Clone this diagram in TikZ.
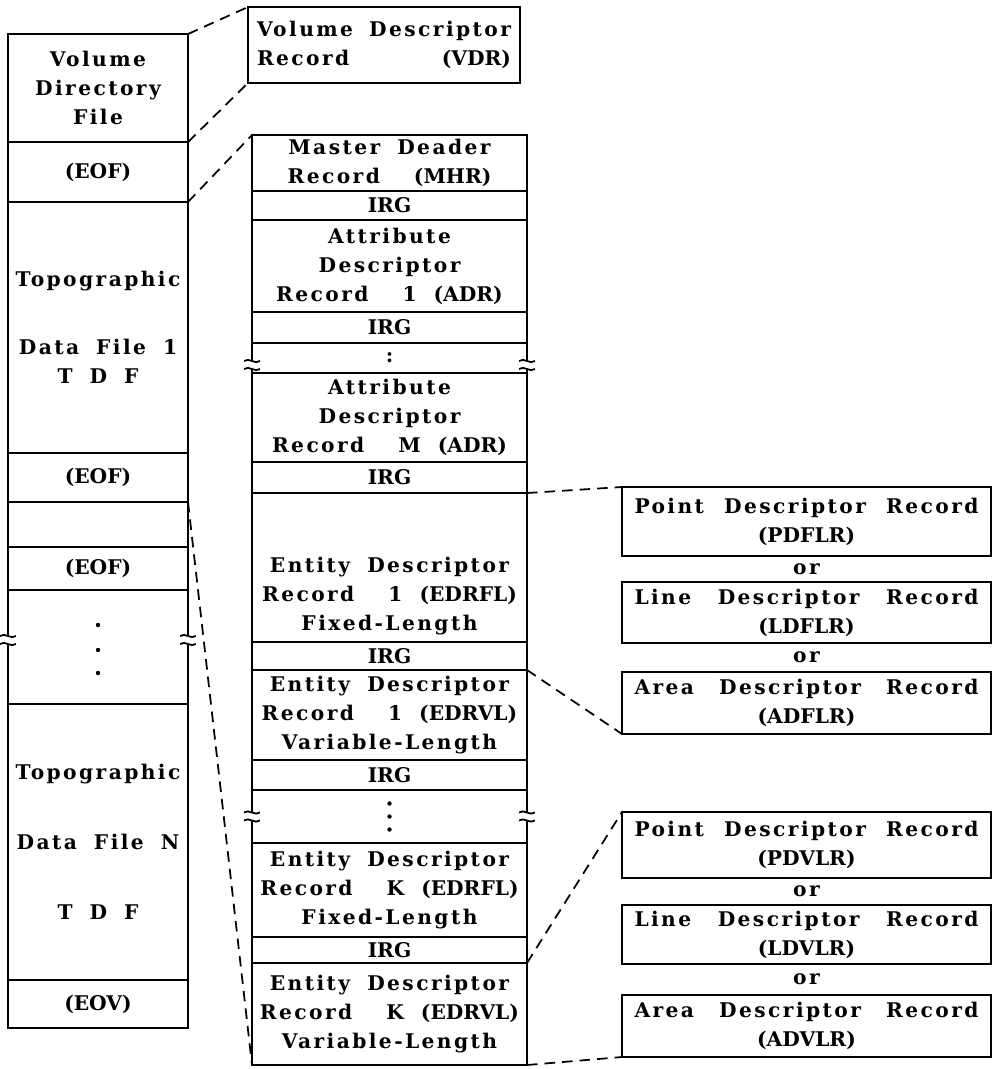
\documentclass[tikz,border=0pt]{standalone}
\usepackage{fontspec}
\usetikzlibrary{positioning, calc}
\newfontfamily\spc{DejaVu Serif}[LetterSpace=12, WordSpace=1.8]
\newfontfamily\tgt{DejaVu Serif}
\newdimen\pxu \pxu=0.2mm
\newcommand\recfont{\spc\bfseries\fontsize{11.5pt}{16.5pt}\selectfont}
\newcommand\tgtab[1]{{\tgt\bfseries #1}}
\newcommand\spread{\hspace{0pt plus 1filll}}
\tikzset{
  cell/.style={rectangle, draw, line width=1.1pt, outer sep=0pt, inner sep=0pt,
    align=center, font=\recfont},
  leftcell/.style={cell, minimum width=180\pxu},
  midcell/.style={cell, minimum width=275\pxu},
  recbox/.style={cell, minimum width=369\pxu, text width=344\pxu},
  ortext/.style={font=\recfont, inner sep=0pt},
  link/.style={dash pattern=on 6pt off 4pt, line width=1pt},
  brk/.pic={
    \fill[white] (-9,-4) rectangle (9,4);
    \draw[line width=1pt] (-8,-4) .. controls (-3,-8) and (3,0) .. (8,-4);
    \draw[line width=1pt] (-8,4) .. controls (-3,0) and (3,8) .. (8,4);
  },
}
\begin{document}
\begin{tikzpicture}[x=0.2mm, y=-0.2mm]
\useasboundingbox (0,0) rectangle (992,1069);

% volume
\node[leftcell, minimum height=108\pxu, anchor=north west] (vdf) at (8,34) {Volume\\Directory\\File};
\node[leftcell, minimum height=60\pxu, below=0pt of vdf] (eof1) {\tgtab{(EOF)}};
\node[leftcell, minimum height=251\pxu, below=0pt of eof1] (tdf1) {Topographic\\[39\pxu]Data File 1\\T\ D\ F};
\node[leftcell, minimum height=49\pxu, below=0pt of tdf1] (eof2) {\tgtab{(EOF)}};
\node[leftcell, minimum height=45\pxu, below=0pt of eof2] (gap1) {};
\node[leftcell, minimum height=43\pxu, below=0pt of gap1] (eof3) {\tgtab{(EOF)}};
\node[leftcell, minimum height=114\pxu, below=0pt of eof3] (ldots) {};
\node[leftcell, minimum height=276\pxu, below=0pt of ldots] (tdfn) {Topographic\\[41\pxu]Data File N\\[41\pxu]T\ D\ F};
\node[leftcell, minimum height=48\pxu, below=0pt of tdfn] (eov) {\tgtab{(EOV)}};

\node[cell, minimum width=272\pxu, minimum height=76\pxu, text width=254\pxu, align=left,
  anchor=north west] (vdr) at (248,7) {Volume\spread Descriptor\\Record\spread\tgtab{(VDR)}};

% data file records
\node[midcell, minimum height=56\pxu, anchor=north west] (mhr) at (252,135) {Master Deader\\Record\ \ \tgtab{(MHR)}};
\node[midcell, minimum height=29\pxu, below=0pt of mhr] (irg1) {\tgtab{IRG}};
\node[midcell, minimum height=92\pxu, below=0pt of irg1] (adr1) {Attribute\\Descriptor\\Record\ \ 1 \tgtab{(ADR)}};
\node[midcell, minimum height=31\pxu, below=0pt of adr1] (irg2) {\tgtab{IRG}};
\node[midcell, minimum height=30\pxu, below=0pt of irg2] (mdots1) {:};
\node[midcell, minimum height=89\pxu, below=0pt of mdots1] (adrm) {Attribute\\Descriptor\\Record\ \ M \tgtab{(ADR)}};
\node[midcell, minimum height=31\pxu, below=0pt of adrm] (irg3) {\tgtab{IRG}};
\node[midcell, minimum height=149\pxu, below=0pt of irg3] (edr1f) {};
\node[font=\recfont, align=center, inner sep=0pt] (edr1ftxt) at ([yshift=-5.8mm]edr1f.center)
  {Entity Descriptor\\Record\ \ 1 \tgtab{(EDRFL)}\\Fixed-Length};
\node[midcell, minimum height=28\pxu, below=0pt of edr1f] (irg4) {\tgtab{IRG}};
\node[midcell, minimum height=90\pxu, below=0pt of irg4] (edr1v) {Entity Descriptor\\Record\ \ 1 \tgtab{(EDRVL)}\\Variable-Length};
\node[midcell, minimum height=30\pxu, below=0pt of edr1v] (irg5) {\tgtab{IRG}};
\node[midcell, minimum height=53\pxu, below=0pt of irg5] (mdots2) {};
\node[midcell, minimum height=94\pxu, below=0pt of mdots2] (edrkf) {Entity Descriptor\\Record\ \ K \tgtab{(EDRFL)}\\Fixed-Length};
\node[midcell, minimum height=26\pxu, below=0pt of edrkf] (irg6) {\tgtab{IRG}};
\node[midcell, minimum height=102\pxu, below=0pt of irg6] (edrkv) {Entity Descriptor\\Record\ \ K \tgtab{(EDRVL)}\\Variable-Length};

% fixed-length descriptors
\node[recbox, minimum height=69\pxu, anchor=north west] (pdf) at (622,487) {Point\spread Descriptor\spread Record\\\tgtab{(PDFLR)}};
\node[recbox, minimum height=61\pxu, below=5.2mm of pdf] (ldf) {Line\spread Descriptor\spread Record\\\tgtab{(LDFLR)}};
\node[recbox, minimum height=62\pxu, below=5.8mm of ldf] (adf) {Area\spread Descriptor\spread Record\\\tgtab{(ADFLR)}};
\node[ortext] (or1) at ($(pdf.south)!0.5!(ldf.north)$) {or};
\node[ortext] (or2) at ($(ldf.south)!0.5!(adf.north)$) {or};

% variable-length descriptors
\node[recbox, minimum height=66\pxu, anchor=north west] (pdv) at (622,812) {Point\spread Descriptor\spread Record\\\tgtab{(PDVLR)}};
\node[recbox, minimum height=59\pxu, below=5.4mm of pdv] (ldv) {Line\spread Descriptor\spread Record\\\tgtab{(LDVLR)}};
\node[recbox, minimum height=62\pxu, below=6.2mm of ldv] (adv) {Area\spread Descriptor\spread Record\\\tgtab{(ADVLR)}};
\node[ortext] (or3) at ($(pdv.south)!0.5!(ldv.north)$) {or};
\node[ortext] (or4) at ($(ldv.south)!0.5!(adv.north)$) {or};

% dots and breaks
\foreach \dy in {-22,3,26} \fill ([yshift=-\dy*\pxu]ldots.center) circle (2.2);
\foreach \dy in {-13,0,13} \fill ([yshift=-\dy*\pxu]mdots2.center) circle (2.2);
\pic at ([yshift=1.4mm]ldots.west) {brk};
\pic at ([yshift=1.4mm]ldots.east) {brk};
\pic at ([yshift=-1.4mm]mdots1.west) {brk};
\pic at ([yshift=-1.4mm]mdots1.east) {brk};
\pic at (mdots2.west) {brk};
\pic at (mdots2.east) {brk};

\draw[link] (vdf.north east) -- (vdr.north west);
\draw[link] (vdf.south east) -- (vdr.south west);
\draw[link] (eof1.south east) -- (mhr.north west);
\draw[link] (gap1.north east) -- (edrkv.south west);
\draw[link] (irg3.south east) -- (pdf.north west);
\draw[link] (irg4.south east) -- (adf.south west);
\draw[link] (irg6.south east) -- (pdv.north west);
\draw[link] (edrkv.south east) -- (adv.south west);
\end{tikzpicture}
\end{document}
